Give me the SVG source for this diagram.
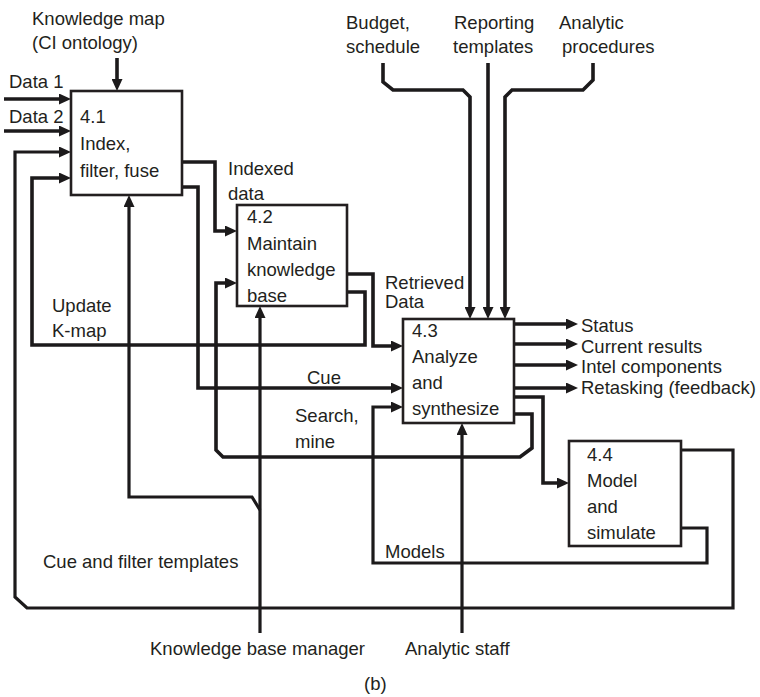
<svg xmlns="http://www.w3.org/2000/svg" width="760" height="697" viewBox="0 0 760 697">
  <style>
    text { font-family: "Liberation Sans", Arial, sans-serif; font-size: 18.5px; fill: #231f20; }
    .box { fill: #ffffff; stroke: #231f20; stroke-width: 2.6; }
    .wire { fill: none; stroke: #1c1a1b; stroke-width: 3.6; stroke-linejoin: miter; }
    .thin { stroke-width: 3.2; }
  </style>
  <defs>
    <marker id="arrow" viewBox="0 0 12 11" markerWidth="12" markerHeight="11" refX="1" refY="5.5" orient="auto" markerUnits="userSpaceOnUse">
      <path d="M0,0 L12,5.5 L0,11 Z" fill="#1c1a1b"/>
    </marker>
  </defs>

  <rect width="760" height="697" fill="#ffffff"/>

  <!-- connectors -->
  <g id="connectors">
    <!-- inputs to 4.1 -->
    <path class="wire" d="M117,58 V80" marker-end="url(#arrow)"/>
    <path class="wire" d="M4,99 H60" marker-end="url(#arrow)"/>
    <path class="wire" d="M4,131 H60" marker-end="url(#arrow)"/>
    <!-- cue and filter templates: 4.4 back to 4.1 -->
    <path class="wire thin" d="M681,450 H733 V608 H27 L15,597 V152 H60" marker-end="url(#arrow)"/>
    <!-- update K-map: 4.2 back to 4.1 -->
    <path class="wire" d="M347,292 H365 V345 H32 V178 H60" marker-end="url(#arrow)"/>
    <!-- indexed data: 4.1 to 4.2 -->
    <path class="wire" d="M182,162 H215 V231 H226" marker-end="url(#arrow)"/>
    <!-- cue: 4.1 to 4.3 -->
    <path class="wire" d="M182,187 H198 V388 H392" marker-end="url(#arrow)"/>
    <!-- retrieved data: 4.2 to 4.3 -->
    <path class="wire" d="M347,274 H373 V346 H392" marker-end="url(#arrow)"/>
    <!-- search, mine: 4.3 to 4.2 -->
    <path class="wire" d="M514,414 H532 V448 L520,457 H223 L216,450 V283 H226" marker-end="url(#arrow)"/>
    <!-- models: 4.4 to 4.3 -->
    <path class="wire thin" d="M681,528 H707 V563 H373 V407 H392" marker-end="url(#arrow)"/>
    <!-- 4.3 to 4.4 -->
    <path class="wire" d="M514,397 H543 V483 H558" marker-end="url(#arrow)"/>
    <!-- outputs of 4.3 -->
    <path class="wire" d="M514,324 H567" marker-end="url(#arrow)"/>
    <path class="wire" d="M514,344 H567" marker-end="url(#arrow)"/>
    <path class="wire" d="M514,365 H567" marker-end="url(#arrow)"/>
    <path class="wire" d="M514,388 H567" marker-end="url(#arrow)"/>
    <!-- controls into 4.3 -->
    <path class="wire" d="M383,63 V82 L393,90 H463 L470,97 V308" marker-end="url(#arrow)"/>
    <path class="wire" d="M488,63 V308" marker-end="url(#arrow)"/>
    <path class="wire" d="M593,63 V80 L583,90 H512 L505,97 V308" marker-end="url(#arrow)"/>
    <!-- mechanisms -->
    <path class="wire thin" d="M260,633 V317" marker-end="url(#arrow)"/>
    <path class="wire thin" d="M260,510 L252,497 H129 V206" marker-end="url(#arrow)"/>
    <path class="wire thin" d="M462,633 V434" marker-end="url(#arrow)"/>
  </g>

  <!-- process boxes -->
  <g id="node-4-1">
    <rect class="box" x="71" y="91" width="111" height="104"/>
    <text x="80" y="123">4.1</text>
    <text x="80" y="150">Index,</text>
    <text x="80" y="177">filter, fuse</text>
  </g>
  <g id="node-4-2">
    <rect class="box" x="237" y="205" width="110" height="101"/>
    <text x="247" y="223">4.2</text>
    <text x="247" y="250">Maintain</text>
    <text x="247" y="276">knowledge</text>
    <text x="247" y="302">base</text>
  </g>
  <g id="node-4-3">
    <rect class="box" x="403" y="319" width="111" height="104"/>
    <text x="412" y="337">4.3</text>
    <text x="412" y="363">Analyze</text>
    <text x="412" y="389">and</text>
    <text x="412" y="415">synthesize</text>
  </g>
  <g id="node-4-4">
    <rect class="box" x="569" y="441" width="112" height="105"/>
    <text x="587" y="461">4.4</text>
    <text x="587" y="487">Model</text>
    <text x="587" y="513">and</text>
    <text x="587" y="539">simulate</text>
  </g>

  <!-- flow labels -->
  <g id="labels">
    <text x="32" y="25">Knowledge map</text>
    <text x="32" y="49">(CI ontology)</text>
    <text x="9" y="88">Data 1</text>
    <text x="9" y="123">Data 2</text>
    <text x="228" y="175">Indexed</text>
    <text x="228" y="200">data</text>
    <text x="385" y="289">Retrieved</text>
    <text x="385" y="308">Data</text>
    <text x="52" y="312">Update</text>
    <text x="52" y="337">K-map</text>
    <text x="307" y="384">Cue</text>
    <text x="295" y="422">Search,</text>
    <text x="295" y="448">mine</text>
    <text x="385" y="558">Models</text>
    <text x="43" y="568">Cue and filter templates</text>
    <text x="346" y="29">Budget,</text>
    <text x="346" y="53">schedule</text>
    <text x="454" y="29">Reporting</text>
    <text x="453" y="53">templates</text>
    <text x="559" y="29">Analytic</text>
    <text x="562" y="53">procedures</text>
    <text x="581" y="332">Status</text>
    <text x="581" y="353">Current results</text>
    <text x="581" y="373">Intel components</text>
    <text x="581" y="394">Retasking (feedback)</text>
    <text x="150" y="655">Knowledge base manager</text>
    <text x="405" y="655">Analytic staff</text>
    <text x="364" y="690">(b)</text>
  </g>
</svg>
